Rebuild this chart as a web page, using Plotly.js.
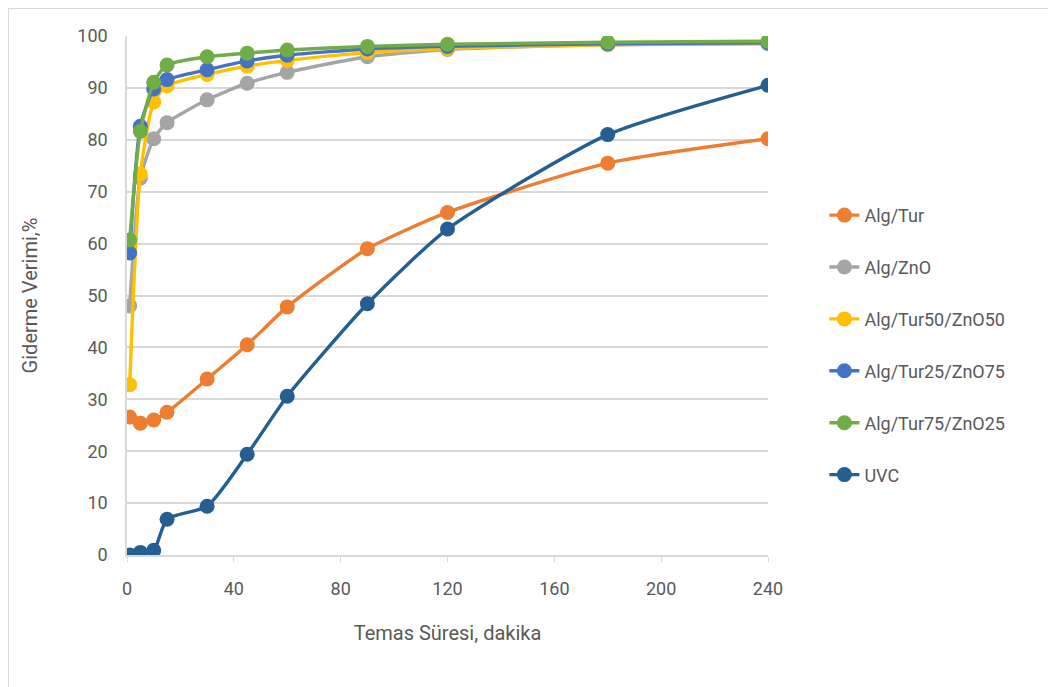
<!DOCTYPE html>
<html><head><meta charset="utf-8">
<script src="https://cdn.plot.ly/plotly-3.0.1.min.js"></script>
<style>
html,body{margin:0;padding:0;background:#fff;}
#frame{position:absolute;left:8px;top:8px;width:1045px;height:685px;border:1px solid #d9d9d9;box-sizing:border-box;}
#chart{position:absolute;left:0;top:0;width:1048px;height:687px;}
</style></head>
<body><div id="frame"></div><div id="chart"></div>
<script>
const time = [1, 5, 10, 15, 30, 45, 60, 90, 120, 180, 240];
const seriesNames = ["Alg/Tur", "Alg/ZnO", "Alg/Tur50/ZnO50", "Alg/Tur25/ZnO75", "Alg/Tur75/ZnO25", "UVC"];
const algTur = [26.6, 25.4, 26.0, 27.5, 33.9, 40.5, 47.8, 59.0, 66.0, 75.5, 80.2];
const algZnO = [48.0, 72.6, 80.2, 83.3, 87.7, 90.9, 93.0, 96.0, 97.4, 98.3, 98.5];
const algTur50 = [32.8, 73.4, 87.3, 90.4, 92.6, 94.2, 95.3, 96.8, 97.6, 98.3, 98.7];
const algTur25 = [58.2, 82.6, 89.8, 91.6, 93.5, 95.2, 96.3, 97.5, 98.0, 98.5, 98.7];
const algTur75 = [60.7, 81.6, 91.1, 94.4, 96.0, 96.7, 97.3, 98.0, 98.4, 98.8, 99.0];
const uvc = [0.0, 0.5, 0.9, 6.9, 9.4, 19.4, 30.6, 48.4, 62.8, 81.0, 90.5];
const values = [algTur, algZnO, algTur50, algTur25, algTur75, uvc];
const colors = ["#ED7D31", "#A5A5A5", "#FFC000", "#4472C4", "#70AD47", "#255E91"];

const traces = values.map((v, i) => ({
  x: time, y: v, name: seriesNames[i], type: "scatter", mode: "lines+markers",
  legendgroup: "g" + i,
  line: {color: colors[i], width: 3.4, shape: "spline", smoothing: 0.6},
  marker: {color: colors[i], size: 15}
}));

const layout = {
  width: 1048, height: 687,
  paper_bgcolor: "rgba(0,0,0,0)", plot_bgcolor: "rgba(0,0,0,0)",
  margin: {l: 127, r: 280, t: 36, b: 132},
  font: {family: "Roboto, 'Liberation Sans', sans-serif", size: 16, color: "#595959"},
  showlegend: true,
  legend: {x: 1.088, xanchor: "left", y: 0.69, yanchor: "top", traceorder: "grouped",
           tracegroupgap: 25.5, font: {size: 18, color: "#595959"}, bgcolor: "rgba(0,0,0,0)"},
  xaxis: {range: [0, 240], tickvals: [0, 40, 80, 120, 160, 200, 240], showgrid: false,
          zeroline: false, showline: true, linecolor: "#d9d9d9", linewidth: 1.5,
          ticks: "outside", ticklen: 5, tickcolor: "#d9d9d9", ticklabelstandoff: 12,
          tickfont: {size: 18, color: "#595959"},
          title: {text: "Temas Süresi, dakika", font: {size: 20, color: "#595959"}, standoff: 28}},
  yaxis: {range: [0, 100], dtick: 10, showgrid: true, gridcolor: "#d9d9d9", gridwidth: 1.5,
          zeroline: false, showline: true, linecolor: "#d9d9d9", linewidth: 1.5,
          ticks: "", ticklabelstandoff: 14, tickfont: {size: 18, color: "#595959"},
          title: {text: "Giderme Verimi,%", font: {size: 20, color: "#595959"}, standoff: 34}}
};
Plotly.newPlot("chart", traces, layout, {displayModeBar: false});
</script></body></html>
